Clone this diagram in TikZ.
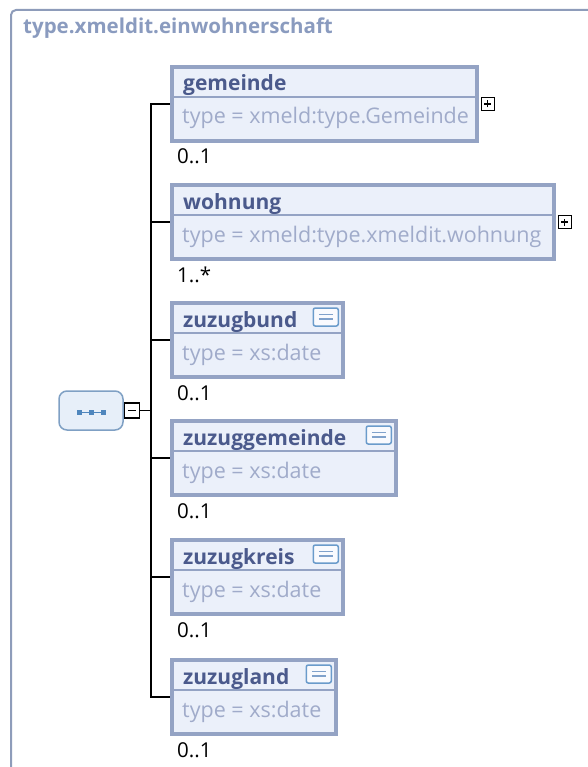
\documentclass[tikz,border=0pt]{standalone}
\usepackage{fontspec}
\setmainfont{Open Sans}
\usetikzlibrary{positioning}
\definecolor{framecol}{HTML}{8E9CBA}
\definecolor{titlecol}{HTML}{8A9BBF}
\definecolor{boxline}{HTML}{94A3C4}
\definecolor{boxfill}{HTML}{EBF0FA}
\definecolor{namecol}{HTML}{4B5A8C}
\definecolor{typecol}{HTML}{A0ABCA}
\definecolor{seqline}{HTML}{7FA0C4}
\definecolor{seqfill}{HTML}{E7EFF9}
\definecolor{seqdot}{HTML}{4F86BD}
\definecolor{doccol}{HTML}{6A9BCB}

\tikzset{
  elem/.style={draw=boxline,line width=4pt,fill=boxfill,anchor=north west,minimum height=74,inner sep=0},
  sepline/.style={boxline,line width=1.5pt},
  wire/.style={black,line width=1.8pt},
  toggle/.style={draw=black,line width=1.3pt,fill=white,minimum size=13,inner sep=0},
  docicon/.style={draw=doccol,line width=1.5pt,fill=white!70!boxfill,rounded corners=2,minimum width=25,minimum height=18,inner sep=0},
  seqbox/.style={draw=seqline,line width=1.5pt,fill=seqfill,rounded corners=8,minimum width=64,minimum height=39,inner sep=0},
}

\begin{document}
\begin{tikzpicture}[x=1pt,y=-1pt]
  \useasboundingbox (0,0) rectangle (587,767);
  % outer frame, open to the right and below
  \draw[framecol,line width=2pt,rounded corners=5] (11,800) |- (640,10);
  \node[anchor=base west,text=titlecol,font=\bfseries\fontsize{20.5}{24}\selectfont,inner sep=0] (title) at (23,34) {type.xmeldit.einwohnerschaft};

  \coordinate (sp) at (151,0);

  % elements: name / width / top / type / cardinality
  \foreach \bn/\bw/\bt/\btype/\bcard in {
      gemeinde/305/65/xmeld:type.Gemeinde/0..1,
      wohnung/382/183/xmeld:type.xmeldit.wohnung/1..*,
      zuzugbund/171/301/xs:date/0..1,
      zuzuggemeinde/224/419/xs:date/0..1,
      zuzugkreis/171/538/xs:date/0..1,
      zuzugland/164/658/xs:date/0..1}{
    \node[elem,minimum width=\bw] (\bn) at (170,\bt) {};
    \draw[sepline] ([yshift=-32]\bn.north west) -- ([yshift=-32]\bn.north east);
    \node[anchor=base west,text=namecol,font=\bfseries\fontsize{21}{25}\selectfont,inner sep=0] (\bn-name) at ([xshift=13,yshift=-26]\bn.north west) {\bn};
    \node[anchor=base west,text=typecol,font=\fontsize{21.5}{25}\selectfont,inner sep=0] (\bn-type) at ([xshift=12,yshift=-59]\bn.north west) {type = \btype};
    \node[anchor=base west,font=\fontsize{20.5}{24}\selectfont,inner sep=0] (\bn-card) at ([xshift=7,yshift=-21]\bn.south west) {\bcard};
    \draw[wire] (\bn.west -| sp) -- (\bn.west);
  }
  \draw[wire,line cap=rect] (gemeinde.west -| sp) -- (zuzugland.west -| sp);

  % documentation icons
  \foreach \bn in {zuzugbund,zuzuggemeinde,zuzugkreis,zuzugland}{
    \node[docicon,anchor=east] (\bn-doc) at ([xshift=-6,yshift=-16]\bn.north east) {};
    \draw[doccol!60!typecol,line width=1.3pt] ([xshift=-7,yshift=2.5]\bn-doc.center) -- ([xshift=7,yshift=2.5]\bn-doc.center);
    \draw[doccol!60!typecol,line width=1.3pt] ([xshift=-7,yshift=-2]\bn-doc.center) -- ([xshift=7,yshift=-2]\bn-doc.center);
  }

  % expand toggles
  \foreach \bn in {gemeinde,wohnung}{
    \node[toggle,right=1.5pt of \bn] (\bn-plus) {};
    \draw[line width=1.1pt] ([xshift=-3.5]\bn-plus.center) -- ([xshift=3.5]\bn-plus.center);
    \draw[line width=1.1pt] ([yshift=-3.5]\bn-plus.center) -- ([yshift=3.5]\bn-plus.center);
  }

  % sequence compositor
  \node[seqbox] (seq) at (91,410.5) {};
  \draw[seqdot,line width=0.8pt] ([xshift=-12,yshift=-2]seq.center) -- ([xshift=12,yshift=-2]seq.center);
  \foreach \dx in {-12,0,12}{
    \fill[seqdot] ([xshift=\dx-2.5,yshift=-4.5]seq.center) rectangle ([xshift=\dx+2.5,yshift=0.5]seq.center);
  }
  \node[toggle,minimum size=15,right=0pt of seq] (minus) {};
  \draw[line width=1.3pt] ([xshift=-4]minus.center) -- ([xshift=4]minus.center);
  \draw[wire] (minus.east) -- (minus.east -| sp);
\end{tikzpicture}
\end{document}
